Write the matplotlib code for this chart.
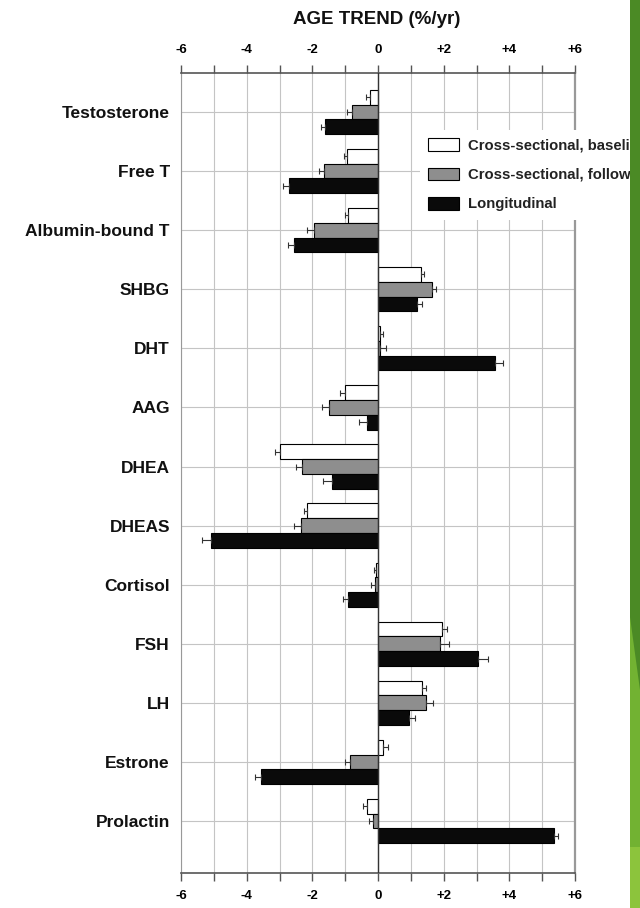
import numpy as np
import matplotlib
matplotlib.use("Agg")
import matplotlib.pyplot as plt
from matplotlib.patches import Rectangle, Polygon

plt.rcParams['font.family'] = ['Liberation Sans', 'DejaVu Sans']

hormones = ["Testosterone", "Free T", "Albumin-bound T", "SHBG", "DHT", "AAG",
            "DHEA", "DHEAS", "Cortisol", "FSH", "LH", "Estrone", "Prolactin"]

# age trend, %/yr
baseline = [-0.25, -0.95, -0.9, 1.3, 0.05, -1.0, -3.0, -2.15, -0.05, 1.95, 1.35, 0.15, -0.35]
followup = [-0.8, -1.65, -1.95, 1.65, 0.05, -1.5, -2.3, -2.35, -0.1, 1.9, 1.45, -0.85, -0.15]
longit = [-1.6, -2.7, -2.55, 1.2, 3.55, -0.33, -1.4, -5.1, -0.92, 3.05, 0.95, -3.55, 5.35]

# error bar (one-sided, outward)
baseline_err = [0.12, 0.08, 0.1, 0.1, 0.1, 0.15, 0.15, 0.1, 0.08, 0.15, 0.12, 0.15, 0.12]
followup_err = [0.15, 0.15, 0.2, 0.12, 0.2, 0.22, 0.2, 0.22, 0.12, 0.25, 0.22, 0.15, 0.12]
longit_err = [0.15, 0.2, 0.2, 0.15, 0.25, 0.25, 0.28, 0.25, 0.15, 0.3, 0.18, 0.2, 0.12]

series = [("Cross-sectional, baseline", baseline, baseline_err, "white", -0.25),
          ("Cross-sectional, follow-up", followup, followup_err, "#8e8e8e", 0.0),
          ("Longitudinal", longit, longit_err, "#0a0a0a", 0.25)]

fig = plt.figure(figsize=(6.4, 9.08), dpi=100)
ax = fig.add_axes([181 / 640, 1 - 873 / 908, 394 / 640, 800 / 908])

y = np.arange(len(hormones))
for name, vals, errs, col, off in series:
    vals = np.array(vals)
    errs = np.array(errs)
    lo = np.where(vals < 0, errs, 0)
    hi = np.where(vals >= 0, errs, 0)
    ax.barh(y + off, vals, height=0.25, color=col, edgecolor="black", linewidth=0.8,
            xerr=[lo, hi], label=name, zorder=3,
            error_kw=dict(ecolor="#333333", elinewidth=0.8, capsize=2.5, capthick=0.8, zorder=4))

ax.axvline(0, color="#333333", linewidth=1.0, zorder=3.5)
ax.set_xlim(-6, 6)
ax.set_ylim(12.88, -0.66)
ax.set_yticks(y)
ax.set_yticklabels(hormones, fontsize=12.5, fontweight="bold")
ax.tick_params(axis="y", length=0, pad=8, labelcolor="#111111")

xt = [-6, -4, -2, 0, 2, 4, 6]
ax.set_xticks(xt)
ax.set_xticklabels(["-6", "-4", "-2", "0", "+2", "+4", "+6"], fontsize=9.5, fontweight="bold")
ax.set_xticks(np.arange(-5, 6, 2), minor=True)
ax.tick_params(axis="x", which="both", top=True, bottom=True, labeltop=True, labelbottom=True,
               direction="out", length=6, width=1, color="#555555", pad=6)

ax.grid(True, which="both", axis="x", color="#c4c4c4", linewidth=0.8, zorder=0)
ax.grid(True, which="major", axis="y", color="#c4c4c4", linewidth=0.8, zorder=0)
ax.set_axisbelow(True)
for s in ["top", "bottom"]:
    ax.spines[s].set_color("#555555")
    ax.spines[s].set_linewidth(1.2)
ax.spines["left"].set_color("#999999")
ax.spines["right"].set_color("#999999")
ax.spines["right"].set_linewidth(1.6)

fig.text(377 / 640, 1 - 20 / 908, "AGE TREND (%/yr)", ha="center", va="center",
         fontsize=13.5, fontweight="bold", color="#111111")

leg = ax.legend(loc="upper left", bbox_to_anchor=(420 / 640, 1 - 130 / 908),
                bbox_transform=fig.transFigure, frameon=True, fancybox=False,
                edgecolor="none", framealpha=1, fontsize=10.7, handlelength=2.1,
                handleheight=0.95, handletextpad=0.6, labelspacing=1.0,
                borderpad=0.55, borderaxespad=0)
for t in leg.get_texts():
    t.set_fontweight("bold")
    t.set_color("#222222")
leg.set_zorder(10)

# green slide decoration at the right edge
fig.patches.append(Rectangle((630 / 640, 0), 10 / 640, 1, transform=fig.transFigure,
                             facecolor="#4b8a25", edgecolor="none", zorder=20))
fig.patches.append(Polygon([(630 / 640, 0), (1, 0), (1, 1 - 690 / 908), (630 / 640, 1 - 617 / 908)],
                           closed=True, transform=fig.transFigure,
                           facecolor="#72b232", edgecolor="none", zorder=21))
fig.patches.append(Rectangle((630 / 640, 0), 10 / 640, 1 - 847 / 908, transform=fig.transFigure,
                             facecolor="#8cc43c", edgecolor="none", zorder=22))

fig.savefig("out.png", dpi=100, facecolor="white")
